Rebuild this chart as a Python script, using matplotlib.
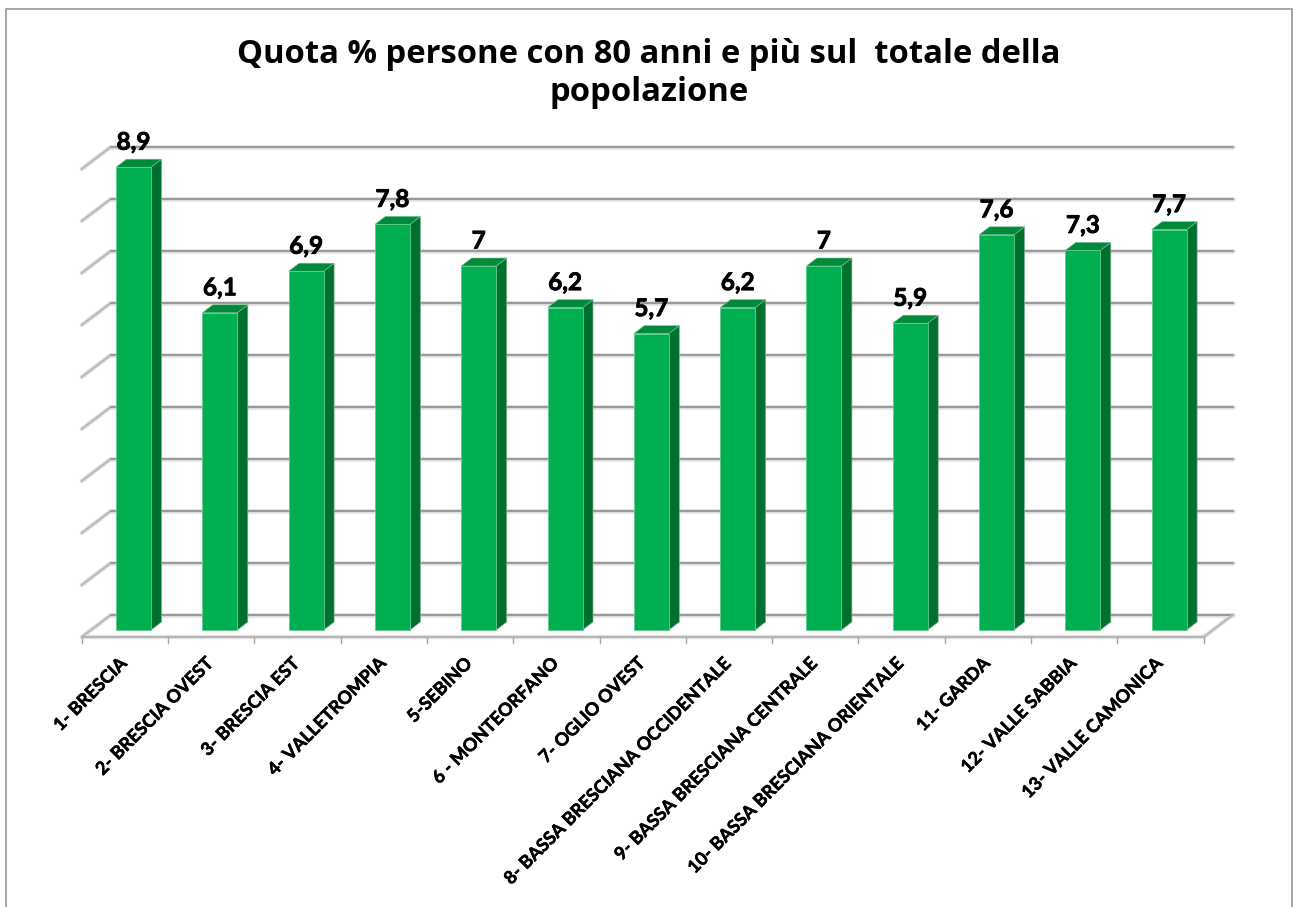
import matplotlib
matplotlib.use("Agg")
import matplotlib.pyplot as plt
import matplotlib.patheffects as pe
from matplotlib.patches import Polygon

W, H = 1293, 907

labels = ["1- BRESCIA", "2- BRESCIA OVEST", "3- BRESCIA EST", "4- VALLETROMPIA",
          "5-SEBINO", "6 - MONTEORFANO", "7- OGLIO OVEST",
          "8- BASSA BRESCIANA OCCIDENTALE", "9- BASSA BRESCIANA CENTRALE",
          "10- BASSA BRESCIANA ORIENTALE", "11- GARDA", "12- VALLE SABBIA",
          "13- VALLE CAMONICA"]
values = [8.9, 6.1, 6.9, 7.8, 7.0, 6.2, 5.7, 6.2, 7.0, 5.9, 7.6, 7.3, 7.7]
value_text = ["8,9", "6,1", "6,9", "7,8", "7", "6,2", "5,7", "6,2", "7", "5,9", "7,6", "7,3", "7,7"]
grid_values = list(range(10))

# pixels per unit
step_x = 86.3
step_y = 52.0
zero_y = 630.0  # bar foot
first_x = 133.5

fig = plt.figure(figsize=(W / 100, H / 100), dpi=100, facecolor="white")
ax = fig.add_axes([0, 0, 1, 1])
ax.set_xlim(-first_x / step_x, (W - first_x) / step_x)
ax.set_ylim((zero_y - H) / step_y, zero_y / step_y)
ax.axis("off")

# outer frame, open at the bottom
fig.add_artist(plt.Line2D([6 / W, 6 / W, 1292 / W, 1292 / W],
                          [0, 1 - 9 / H, 1 - 9 / H, 0], color="#a6a6a6", lw=1.4))

# floor/wall geometry in data units
front_x0 = -0.6
front_x1 = 12.4
front_y = -7 / step_y
wall_dx = 29 / step_x
wall_dy = 22 / step_y
n = len(values)


def grid_line(xs, ys, color="#9a9a9a", lw=1.5):
    ax.plot(xs, ys, color="#e2e2e2", lw=lw + 1.8, solid_capstyle="round", zorder=1)
    ax.plot(xs, ys, color=color, lw=lw, solid_capstyle="round", zorder=1.1)


for g in grid_values:
    y = front_y + g
    grid_line([front_x0, front_x0 + wall_dx], [y, y + wall_dy], color="#b8b8b8", lw=1.4)
    grid_line([front_x0 + wall_dx, front_x1 + wall_dx], [y + wall_dy, y + wall_dy])

# floor edges
grid_line([front_x0, front_x1], [front_y, front_y], color="#b4b4b4", lw=1.4)
grid_line([front_x1, front_x1 + wall_dx], [front_y, front_y + wall_dy], color="#b8b8b8", lw=1.4)
for i in range(n + 1):
    ax.plot([front_x0 + i, front_x0 + i], [front_y, front_y - 6 / step_y],
            color="#a8a8a8", lw=1.0, zorder=1.1)

# Lato comes out a bit light here, thicken it
thick = [pe.withStroke(linewidth=0.6, foreground="black")]

# bars
bar_w = 35 / step_x
depth_x = 10.5 / step_x
depth_y = 8 / step_y
for i, v in enumerate(values):
    left = i - bar_w / 2
    right = i + bar_w / 2
    ax.add_patch(Polygon([(right, 0), (right + depth_x, depth_y), (right + depth_x, v + depth_y), (right, v)],
                         closed=True, facecolor="#00702f", edgecolor="#7fae90", lw=0.5, zorder=2.9))
    ax.add_patch(Polygon([(left, v), (left + depth_x, v + depth_y), (right + depth_x, v + depth_y), (right, v)],
                         closed=True, facecolor="#008a3c", edgecolor="#7fbf96", lw=0.4, zorder=2.9))
    ax.bar(i, v, width=bar_w, color="#00b050", edgecolor="#5fcb8d", lw=0.6, zorder=3)
    ax.text(i, v + 13.5 / step_y, value_text[i], ha="center", va="bottom",
            family="Lato", fontweight="bold", fontsize=17.5, color="black", zorder=5,
            path_effects=thick)

# category labels
for i, lab in enumerate(labels):
    ax.annotate(lab, xy=(i - 0.11, front_y), xytext=(0, -17), textcoords="offset points",
                rotation=45, rotation_mode="anchor", ha="right", va="center",
                family="Lato", fontweight="bold", fontsize=13, color="black",
                path_effects=[pe.withStroke(linewidth=0.4, foreground="black")])

fig.text(649 / W, 1 - 73.5 / H, "Quota % persone con 80 anni e più sul  totale della\npopolazione",
         ha="center", va="center", family="Open Sans", fontweight="bold", fontsize=23.6,
         linespacing=1.18, color="black")

fig.savefig("out.png", dpi=100)
